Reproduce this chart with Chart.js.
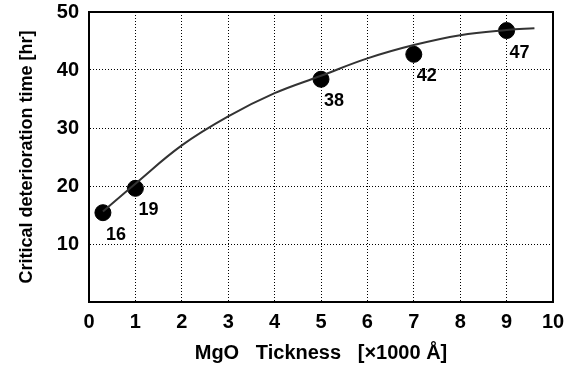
<!DOCTYPE html>
<html>
<head>
<meta charset="utf-8">
<script src="https://cdn.jsdelivr.net/npm/chart.js@4"></script>
<style>
  html, body { margin: 0; padding: 0; background: #fff; }
  #wrap { width: 583px; height: 367px; }
</style>
</head>
<body>
<div id="wrap"><canvas id="myChart"></canvas></div>
<script>
// measured points
const thickness = [0.3, 1, 5, 7, 9];
const hours = [15.4, 19.6, 38.4, 42.7, 46.8];
const pointLabels = ['16', '19', '38', '42', '47'];

// fitted curve
const curveX = [0.3, 1, 2, 3, 4, 5, 6, 7, 8, 9, 9.6];
const curveY = [15.6, 20.4, 27, 32, 36, 39, 42, 44.3, 46, 46.9, 47.2];

const ctx = document.getElementById('myChart');
const font = 'Liberation Sans, Arial, sans-serif';

const boxPlugin = {
    id: 'box',
    afterDatasetsDraw(chart) {
        const a = chart.chartArea;
        const c = chart.ctx;
        c.save();
        c.strokeStyle = '#000';
        c.lineWidth = 2;
        c.strokeRect(a.left, a.top, a.right - a.left, a.bottom - a.top);
        c.restore();
    }
};

const labelPlugin = {
    id: 'pointLabels',
    afterDatasetsDraw(chart) {
        const meta = chart.getDatasetMeta(0);
        const c = chart.ctx;
        c.save();
        c.fillStyle = '#000';
        c.font = 'bold 18px ' + font;
        c.textAlign = 'left';
        c.textBaseline = 'middle';
        meta.data.forEach((pt, i) => {
            c.fillText(pointLabels[i], pt.x + 3, pt.y + 22);
        });
        c.restore();
    }
};

new Chart(ctx, {
    type: 'scatter',
    data: {
        datasets: [{
            data: thickness.map((x, i) => ({ x: x, y: hours[i] })),
            backgroundColor: '#000',
            borderColor: '#000',
            pointRadius: 8,
            pointHoverRadius: 8,
            order: 2
        }, {
            data: curveX.map((x, i) => ({ x: x, y: curveY[i] })),
            showLine: true,
            tension: 0.4,
            borderColor: '#333',
            borderWidth: 2,
            pointRadius: 0,
            order: 1
        }]
    },
    options: {
        responsive: true,
        maintainAspectRatio: false,
        animation: false,
        layout: { padding: { left: 0, right: 30, top: 12, bottom: 2 } },
        plugins: {
            legend: { display: false },
            tooltip: { enabled: false }
        },
        scales: {
            x: {
                type: 'linear',
                min: 0,
                max: 10,
                ticks: {
                    stepSize: 1,
                    color: '#000',
                    padding: 8,
                    font: { family: font, size: 20, weight: 'bold' }
                },
                grid: {
                    color: '#000',
                    lineWidth: 1,
                    drawTicks: false
                },
                border: { display: true, color: '#000', width: 2, dash: [1, 2] },
                title: {
                    display: true,
                    text: 'MgO   Tickness   [×1000 Å]',
                    color: '#000',
                    padding: { top: 2, bottom: 0 },
                    font: { family: font, size: 20, weight: 'bold' }
                },
                afterFit(scale) { scale.height = 63; }
            },
            y: {
                min: 0,
                max: 50,
                ticks: {
                    stepSize: 10,
                    color: '#000',
                    padding: 10,
                    font: { family: font, size: 20, weight: 'bold' },
                    callback: v => v === 0 ? '' : v
                },
                grid: {
                    color: '#000',
                    lineWidth: 1,
                    drawTicks: false
                },
                border: { display: true, color: '#000', width: 2, dash: [1, 2] },
                title: {
                    display: true,
                    text: 'Critical deterioration time [hr]',
                    color: '#000',
                    padding: { top: 16, bottom: 4 },
                    font: { family: font, size: 18, weight: 'bold' }
                },
                afterFit(scale) {
                    scale.width = 89;
                    scale.paddingTop = 0;
                    scale.paddingBottom = 0;
                }
            }
        }
    },
    plugins: [boxPlugin, labelPlugin]
});
</script>
</body>
</html>
